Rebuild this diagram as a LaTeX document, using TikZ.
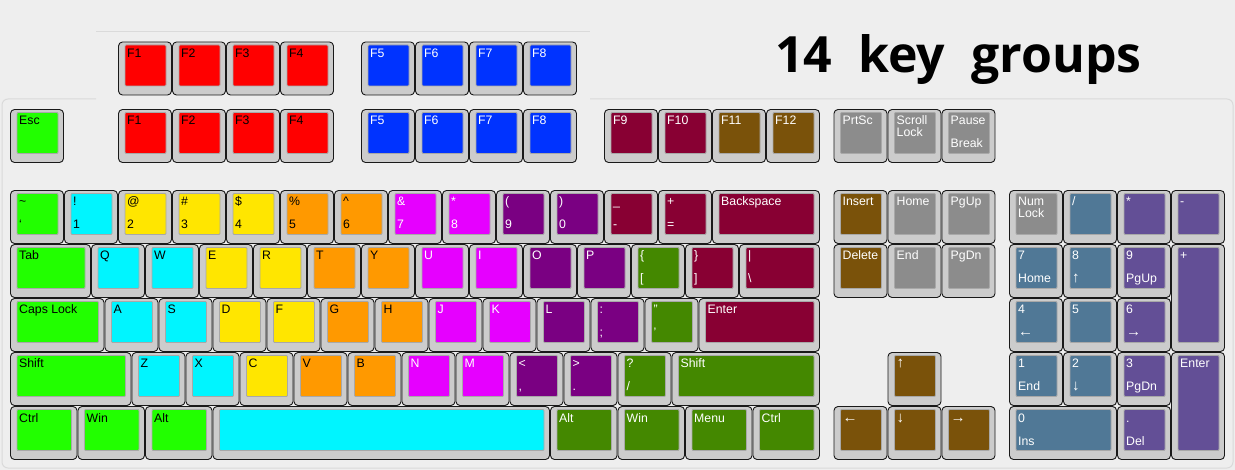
\documentclass[tikz,border=0pt]{standalone}
\usepackage{fontspec}
\setmainfont{Liberation Sans}
\newfontfamily\titlefont{Open Sans}
\usepackage{tikz}
\usetikzlibrary{positioning}
\definecolor{figback}{RGB}{238,238,238}
\definecolor{figpanel}{RGB}{218,218,218}
\definecolor{figline}{RGB}{25,25,25}
\definecolor{figrim}{RGB}{204,204,204}
\definecolor{figedge}{RGB}{168,168,168}
\definecolor{figgreen}{RGB}{34,255,0}
\definecolor{figred}{RGB}{255,0,0}
\definecolor{figblue}{RGB}{0,51,255}
\definecolor{figmaroon}{RGB}{136,0,51}
\definecolor{figbrown}{RGB}{122,82,10}
\definecolor{figgray}{RGB}{140,140,140}
\definecolor{figcyan}{RGB}{0,245,255}
\definecolor{figyellow}{RGB}{255,230,0}
\definecolor{figorange}{RGB}{255,153,0}
\definecolor{figmagenta}{RGB}{230,0,255}
\definecolor{figpurple}{RGB}{122,0,130}
\definecolor{figolive}{RGB}{68,136,0}
\definecolor{figsteel}{RGB}{80,120,150}
\definecolor{figslate}{RGB}{99,79,150}
\tikzset{
  kb/.style  ={draw=figline, line width=0.9pt, fill=figrim, rounded corners=4pt},
  kt/.style  ={draw=figedge, line width=0.8pt, rounded corners=1pt},
  lab/.style ={font=\fontsize{12.3}{12}\selectfont, inner sep=0pt, anchor=base west},
  pan/.style ={draw=figpanel, line width=1pt},
}
\newcommand{\arw}[1]{{\fontsize{15}{15}\selectfont #1}}
% key: name, column, top, width, height, fill, ink, upper, lower
\newcommand{\kbkey}[9]{%
  \draw[kb] ({10+54*#2+0.5},{#3+0.5}) rectangle ({10+54*(#2+#4)-0.5},{#3+54*#5-0.5});
  \draw[kt,fill=#6] ({10+54*#2+7},{#3+3.5}) rectangle ({10+54*(#2+#4)-6},{#3+54*#5-9.5});
  \node[lab,text=#7] (#1t) at ({10+54*#2+9},{#3+16}) {#8};
  \node[lab,text=#7] (#1b) at ({10+54*#2+9},{#3+54*#5-15}) {#9};
}

\begin{document}
\begin{tikzpicture}[x=1pt,y=-1pt]
  \fill[figback] (0,0) rectangle (1235,470);
  \useasboundingbox (0,0) rectangle (1235,470);
  \draw[pan] (96,32) -- (590,32);
  \draw[pan,rounded corners=6pt] (96,99) -- (2,99) -- (2,468) -- (1233,468) -- (1233,99) -- (590,99);
  \node[font=\titlefont\bfseries\fontsize{50}{50}\selectfont, inner sep=0pt, anchor=base west] (title) at (775,73) {14\ \ key\ \ groups};
  % extra function row
  \kbkey{xfa}{2}{41.5}{1}{1}{figred}{black}{F1}{}
  \kbkey{xfb}{3}{41.5}{1}{1}{figred}{black}{F2}{}
  \kbkey{xfc}{4}{41.5}{1}{1}{figred}{black}{F3}{}
  \kbkey{xfd}{5}{41.5}{1}{1}{figred}{black}{F4}{}
  \kbkey{xfe}{6.5}{41.5}{1}{1}{figblue}{white}{F5}{}
  \kbkey{xff}{7.5}{41.5}{1}{1}{figblue}{white}{F6}{}
  \kbkey{xfg}{8.5}{41.5}{1}{1}{figblue}{white}{F7}{}
  \kbkey{xfh}{9.5}{41.5}{1}{1}{figblue}{white}{F8}{}
  % function row
  \kbkey{esc}{0}{109}{1}{1}{figgreen}{black}{Esc}{}
  \kbkey{fa}{2}{109}{1}{1}{figred}{black}{F1}{}
  \kbkey{fb}{3}{109}{1}{1}{figred}{black}{F2}{}
  \kbkey{fc}{4}{109}{1}{1}{figred}{black}{F3}{}
  \kbkey{fd}{5}{109}{1}{1}{figred}{black}{F4}{}
  \kbkey{fe}{6.5}{109}{1}{1}{figblue}{white}{F5}{}
  \kbkey{ff}{7.5}{109}{1}{1}{figblue}{white}{F6}{}
  \kbkey{fg}{8.5}{109}{1}{1}{figblue}{white}{F7}{}
  \kbkey{fh}{9.5}{109}{1}{1}{figblue}{white}{F8}{}
  \kbkey{fi}{11}{109}{1}{1}{figmaroon}{white}{F9}{}
  \kbkey{fj}{12}{109}{1}{1}{figmaroon}{white}{F10}{}
  \kbkey{fk}{13}{109}{1}{1}{figbrown}{white}{F11}{}
  \kbkey{fl}{14}{109}{1}{1}{figbrown}{white}{F12}{}
  \kbkey{prt}{15.25}{109}{1}{1}{figgray}{white}{PrtSc}{}
  \kbkey{scr}{16.25}{109}{1}{1}{figgray}{white}{Scroll}{}
  \node[lab,text=white] (scrl) at ([yshift=-12pt]scrt.base west) {Lock};
  \kbkey{pau}{17.25}{109}{1}{1}{figgray}{white}{Pause}{Break}
  % number row
  \kbkey{tld}{0}{190}{1}{1}{figgreen}{black}{\symbol{126}}{\symbol{96}}
  \kbkey{ka}{1}{190}{1}{1}{figcyan}{black}{!}{1}
  \kbkey{kb}{2}{190}{1}{1}{figyellow}{black}{@}{2}
  \kbkey{kc}{3}{190}{1}{1}{figyellow}{black}{\#}{3}
  \kbkey{kd}{4}{190}{1}{1}{figyellow}{black}{\$}{4}
  \kbkey{ke}{5}{190}{1}{1}{figorange}{black}{\%}{5}
  \kbkey{kf}{6}{190}{1}{1}{figorange}{black}{\symbol{94}}{6}
  \kbkey{kg}{7}{190}{1}{1}{figmagenta}{white}{\&}{7}
  \kbkey{kh}{8}{190}{1}{1}{figmagenta}{white}{*}{8}
  \kbkey{ki}{9}{190}{1}{1}{figpurple}{white}{(}{9}
  \kbkey{kj}{10}{190}{1}{1}{figpurple}{white}{)}{0}
  \kbkey{mns}{11}{190}{1}{1}{figmaroon}{white}{\_}{-}
  \kbkey{eql}{12}{190}{1}{1}{figmaroon}{white}{+}{=}
  \kbkey{bks}{13}{190}{2}{1}{figmaroon}{white}{Backspace}{}
  \kbkey{ins}{15.25}{190}{1}{1}{figbrown}{white}{Insert}{}
  \kbkey{hom}{16.25}{190}{1}{1}{figgray}{white}{Home}{}
  \kbkey{pgu}{17.25}{190}{1}{1}{figgray}{white}{PgUp}{}
  \kbkey{nlk}{18.5}{190}{1}{1}{figgray}{white}{Num}{}
  \node[lab,text=white] (nlkl) at ([yshift=-12pt]nlkt.base west) {Lock};
  \kbkey{ndv}{19.5}{190}{1}{1}{figsteel}{white}{/}{}
  \kbkey{nml}{20.5}{190}{1}{1}{figslate}{white}{*}{}
  \kbkey{nsb}{21.5}{190}{1}{1}{figslate}{white}{-}{}
  % top letter row
  \kbkey{tab}{0}{244}{1.5}{1}{figgreen}{black}{Tab}{}
  \kbkey{q}{1.5}{244}{1}{1}{figcyan}{black}{Q}{}
  \kbkey{w}{2.5}{244}{1}{1}{figcyan}{black}{W}{}
  \kbkey{e}{3.5}{244}{1}{1}{figyellow}{black}{E}{}
  \kbkey{r}{4.5}{244}{1}{1}{figyellow}{black}{R}{}
  \kbkey{t}{5.5}{244}{1}{1}{figorange}{black}{T}{}
  \kbkey{y}{6.5}{244}{1}{1}{figorange}{black}{Y}{}
  \kbkey{u}{7.5}{244}{1}{1}{figmagenta}{white}{U}{}
  \kbkey{i}{8.5}{244}{1}{1}{figmagenta}{white}{I}{}
  \kbkey{o}{9.5}{244}{1}{1}{figpurple}{white}{O}{}
  \kbkey{p}{10.5}{244}{1}{1}{figpurple}{white}{P}{}
  \kbkey{lbr}{11.5}{244}{1}{1}{figolive}{white}{\{}{[}
  \kbkey{rbr}{12.5}{244}{1}{1}{figmaroon}{white}{\}}{]}
  \kbkey{bsl}{13.5}{244}{1.5}{1}{figmaroon}{white}{|}{\symbol{92}}
  \kbkey{del}{15.25}{244}{1}{1}{figbrown}{white}{Delete}{}
  \kbkey{end}{16.25}{244}{1}{1}{figgray}{white}{End}{}
  \kbkey{pgd}{17.25}{244}{1}{1}{figgray}{white}{PgDn}{}
  \kbkey{nsv}{18.5}{244}{1}{1}{figsteel}{white}{7}{Home}
  \kbkey{net}{19.5}{244}{1}{1}{figsteel}{white}{8}{\arw{↑}}
  \kbkey{nnn}{20.5}{244}{1}{1}{figslate}{white}{9}{PgUp}
  \kbkey{npl}{21.5}{244}{1}{2}{figslate}{white}{+}{}
  % home row
  \kbkey{cap}{0}{298}{1.75}{1}{figgreen}{black}{Caps Lock}{}
  \kbkey{a}{1.75}{298}{1}{1}{figcyan}{black}{A}{}
  \kbkey{s}{2.75}{298}{1}{1}{figcyan}{black}{S}{}
  \kbkey{d}{3.75}{298}{1}{1}{figyellow}{black}{D}{}
  \kbkey{f}{4.75}{298}{1}{1}{figyellow}{black}{F}{}
  \kbkey{g}{5.75}{298}{1}{1}{figorange}{black}{G}{}
  \kbkey{h}{6.75}{298}{1}{1}{figorange}{black}{H}{}
  \kbkey{j}{7.75}{298}{1}{1}{figmagenta}{white}{J}{}
  \kbkey{k}{8.75}{298}{1}{1}{figmagenta}{white}{K}{}
  \kbkey{l}{9.75}{298}{1}{1}{figpurple}{white}{L}{}
  \kbkey{sem}{10.75}{298}{1}{1}{figpurple}{white}{:}{;}
  \kbkey{quo}{11.75}{298}{1}{1}{figolive}{white}{\symbol{34}}{\symbol{39}}
  \kbkey{ent}{12.75}{298}{2.25}{1}{figmaroon}{white}{Enter}{}
  \kbkey{nfo}{18.5}{298}{1}{1}{figsteel}{white}{4}{\arw{←}}
  \kbkey{nfi}{19.5}{298}{1}{1}{figsteel}{white}{5}{}
  \kbkey{nsi}{20.5}{298}{1}{1}{figslate}{white}{6}{\arw{→}}
  % bottom letter row
  \kbkey{lsh}{0}{352}{2.25}{1}{figgreen}{black}{Shift}{}
  \kbkey{z}{2.25}{352}{1}{1}{figcyan}{black}{Z}{}
  \kbkey{x}{3.25}{352}{1}{1}{figcyan}{black}{X}{}
  \kbkey{c}{4.25}{352}{1}{1}{figyellow}{black}{C}{}
  \kbkey{v}{5.25}{352}{1}{1}{figorange}{black}{V}{}
  \kbkey{b}{6.25}{352}{1}{1}{figorange}{black}{B}{}
  \kbkey{n}{7.25}{352}{1}{1}{figmagenta}{white}{N}{}
  \kbkey{m}{8.25}{352}{1}{1}{figmagenta}{white}{M}{}
  \kbkey{cma}{9.25}{352}{1}{1}{figpurple}{white}{<}{,}
  \kbkey{per}{10.25}{352}{1}{1}{figpurple}{white}{>}{.}
  \kbkey{slh}{11.25}{352}{1}{1}{figolive}{white}{?}{/}
  \kbkey{rsh}{12.25}{352}{2.75}{1}{figolive}{white}{Shift}{}
  \kbkey{aup}{16.25}{352}{1}{1}{figbrown}{white}{\arw{↑}}{}
  \kbkey{non}{18.5}{352}{1}{1}{figsteel}{white}{1}{End}
  \kbkey{ntw}{19.5}{352}{1}{1}{figsteel}{white}{2}{\arw{↓}}
  \kbkey{nth}{20.5}{352}{1}{1}{figslate}{white}{3}{PgDn}
  \kbkey{nen}{21.5}{352}{1}{2}{figslate}{white}{Enter}{}
  % space row
  \kbkey{lct}{0}{406}{1.25}{1}{figgreen}{black}{Ctrl}{}
  \kbkey{lwn}{1.25}{406}{1.25}{1}{figgreen}{black}{Win}{}
  \kbkey{lal}{2.5}{406}{1.25}{1}{figgreen}{black}{Alt}{}
  \kbkey{spc}{3.75}{406}{6.25}{1}{figcyan}{black}{}{}
  \kbkey{ral}{10}{406}{1.25}{1}{figolive}{white}{Alt}{}
  \kbkey{rwn}{11.25}{406}{1.25}{1}{figolive}{white}{Win}{}
  \kbkey{mnu}{12.5}{406}{1.25}{1}{figolive}{white}{Menu}{}
  \kbkey{rct}{13.75}{406}{1.25}{1}{figolive}{white}{Ctrl}{}
  \kbkey{alf}{15.25}{406}{1}{1}{figbrown}{white}{\arw{←}}{}
  \kbkey{adn}{16.25}{406}{1}{1}{figbrown}{white}{\arw{↓}}{}
  \kbkey{art}{17.25}{406}{1}{1}{figbrown}{white}{\arw{→}}{}
  \kbkey{nzr}{18.5}{406}{2}{1}{figsteel}{white}{0}{Ins}
  \kbkey{ndt}{20.5}{406}{1}{1}{figslate}{white}{.}{Del}
\end{tikzpicture}
\end{document}
